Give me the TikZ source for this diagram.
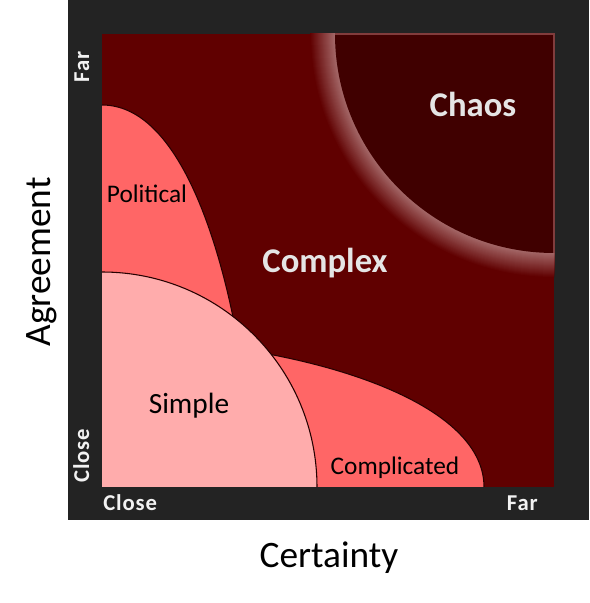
\documentclass[tikz,border=0pt]{standalone}
\usepackage{fontspec}
\setmainfont{Carlito}
\usepackage{xcolor}
\definecolor{complexred}{RGB}{96, 0, 0}
\definecolor{chaosred}{RGB}{64, 0, 0}
\definecolor{glowred}{RGB}{165, 105, 105}
\definecolor{midred}{RGB}{255, 102, 102}
\definecolor{lightred}{RGB}{255, 172, 172}
\definecolor{framegray}{RGB}{35, 35, 35}
\definecolor{edgered}{RGB}{130, 60, 60}
\usetikzlibrary{positioning}

\begin{document}
\begin{tikzpicture}[x=0.75pt, y=0.75pt]
  \tikzstyle{zone} = [inner sep=0, font=\fontsize{26}{30}\selectfont\bfseries, text=white!90!black]
  \tikzstyle{part} = [inner sep=0, text=black]
  \tikzstyle{tick} = [inner sep=0, font=\fontsize{17}{20}\selectfont\bfseries\addfontfeature{LetterSpace=4}, text=white!95!black]
  \tikzstyle{axis} = [inner sep=0, font=\fontsize{28}{32}\selectfont, text=black]
  \tikzstyle{outline} = [draw=black!85!red, line width=0.8pt]

  \useasboundingbox (0,0) rectangle (589,603);
  \fill[white] (0,0) rectangle (589,603);
  \fill[framegray] (68,83) rectangle (589,603);

  \coordinate (ll) at (102,116);
  \coordinate (ur) at (554,569);
  \fill[complexred] (ll) rectangle (ur);

  % chaos with its glow
  \begin{scope}
    \clip (ll) rectangle (ur);
    \foreach \r in {25,...,1} {
      \pgfmathtruncatemacro{\mix}{100-4*\r}
      \fill[glowred!\mix!complexred] (ur) circle[radius=219+\r];
    }
    \fill[chaosred] (ur) circle[radius=219];
    \draw[edgered, line width=0.8pt] (335,569) -- (ur) -- (554,350);
  \end{scope}

  % political and complicated
  \fill[midred] (102,498) .. controls (175,498) and (215,373) .. (233,286) -- (235,278) -- (102,278) -- cycle;
  \draw[outline] (102,498) .. controls (175,498) and (215,373) .. (233,286) -- (234,282);
  \fill[midred] (268,249) .. controls (380,228) and (484,183) .. (484,116) -- (250,116) -- (250,249) -- cycle;
  \draw[outline] (268,249) .. controls (380,228) and (484,183) .. (484,116);

  % simple
  \fill[lightred] (ll) -- (102,331) arc[start angle=90, end angle=0, radius=215] -- cycle;
  \draw[outline] (102,331) arc[start angle=90, end angle=0, radius=215];

  \node[zone, anchor=base] (chaos) at (473,486) {Chaos};
  \node[zone, anchor=base] (complex) at (325,330) {Complex};
  \node[part, anchor=base, font=\fontsize{19}{22}\selectfont] (political) at (147,400) {Political};
  \node[part, anchor=base, font=\fontsize{22}{26}\selectfont] (simple) at (189,189) {Simple};
  \node[part, anchor=base, font=\fontsize{19}{22}\selectfont] (complicated) at (395,128) {Complicated};

  \node[tick, anchor=base west] (xclose) at (103,92) {Close};
  \node[tick, anchor=base east] (xfar) at (538,92) {Far};
  \node[tick, rotate=90, anchor=base west] (yclose) at (89,120) {Close};
  \node[tick, rotate=90, anchor=base east] (yfar) at (89,552) {Far};

  \node[axis, anchor=base] (certainty) at (329,35) {Certainty};
  \node[axis, rotate=90, anchor=base] (agreement) at (51,341) {Agreement};
\end{tikzpicture}
\end{document}
